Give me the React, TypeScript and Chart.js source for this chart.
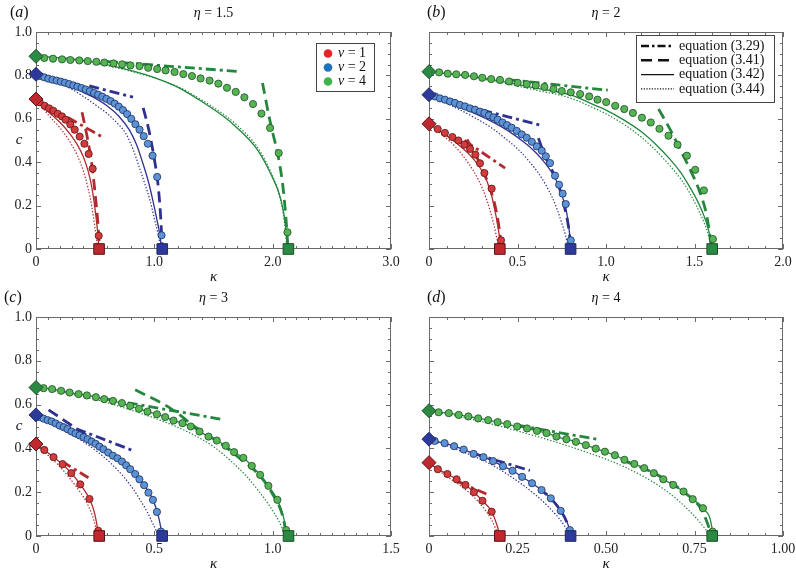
import React, { useEffect, useRef } from "react";
import { Chart, registerables } from "chart.js";
Chart.register(...registerables);

type P = [number, number];

// ---------------- tick labels ----------------
const Y_TICKS = [0, 0.2, 0.4, 0.6, 0.8, 1.0];
const Y_TICK_LABELS = ["0", "0.2", "0.4", "0.6", "0.8", "1.0"];
const A_X_TICKS = [0, 1, 2, 3];
const A_X_LABELS = ["0", "1.0", "2.0", "3.0"];
const B_X_TICKS = [0, 0.5, 1, 1.5, 2];
const B_X_LABELS = ["0", "0.5", "1.0", "1.5", "2.0"];
const C_X_TICKS = [0, 0.5, 1, 1.5];
const C_X_LABELS = ["0", "0.5", "1.0", "1.5"];
const D_X_TICKS = [0, 0.25, 0.5, 0.75, 1];
const D_X_LABELS = ["0", "0.25", "0.50", "0.75", "1.00"];

const PANEL_LETTERS = ["a", "b", "c", "d"];
const ETA_VALUES = ["1.5", "2", "3", "4"];
const V_VALUES = ["1", "2", "4"];
const EQ_LABELS = ["equation (3.29)", "equation (3.41)", "equation (3.42)", "equation (3.44)"];

// ---------------- panel (a) eta = 1.5 ----------------
const A_START = [0.691, 0.805, 0.888];
const A_END = [0.533, 1.067, 2.133];
const A_V1_NUM: P[] = [[0.031,0.676],[0.073,0.660],[0.110,0.648],[0.146,0.637],[0.183,0.623],[0.220,0.611],[0.250,0.596],[0.290,0.574],[0.327,0.550],[0.369,0.518],[0.409,0.485],[0.445,0.438],[0.479,0.370],[0.530,0.061]];
const A_V1_342: P[] = [[0,0.691],[0.1,0.635],[0.2,0.585],[0.28,0.535],[0.35,0.48],[0.40,0.425],[0.44,0.36],[0.47,0.29],[0.495,0.2],[0.515,0.11],[0.527,0.04],[0.532,0]];
const A_V1_344: P[] = [[0,0.691],[0.1,0.62],[0.2,0.56],[0.28,0.50],[0.35,0.43],[0.40,0.36],[0.44,0.28],[0.47,0.20],[0.495,0.11],[0.512,0.04],[0.52,0]];
const A_V1_329: P[] = [[0.27,0.606],[0.56,0.516]];
const A_V1_341: P[] = [[0.389,0.630],[0.432,0.518],[0.474,0.381],[0.502,0.242],[0.525,0.104],[0.536,0]];
const A_V2_NUM: P[] = [[0.035,0.797],[0.07,0.791],[0.105,0.785],[0.14,0.780],[0.175,0.776],[0.21,0.771],[0.245,0.766],[0.28,0.760],[0.315,0.754],[0.35,0.748],[0.385,0.742],[0.42,0.735],[0.455,0.727],[0.49,0.719],[0.525,0.711],[0.56,0.702],[0.595,0.692],[0.63,0.682],[0.665,0.670],[0.70,0.656],[0.735,0.640],[0.77,0.622],[0.805,0.600],[0.84,0.575],[0.875,0.550],[0.91,0.520],[0.945,0.485],[0.985,0.430],[1.024,0.332],[1.061,0.063]];
const A_V2_342: P[] = [[0,0.805],[0.1,0.793],[0.2,0.775],[0.3,0.751],[0.4,0.722],[0.5,0.695],[0.6,0.66],[0.7,0.612],[0.79,0.548],[0.85,0.48],[0.9,0.40],[0.95,0.31],[0.985,0.23],[1.02,0.14],[1.045,0.07],[1.061,0]];
const A_V2_344: P[] = [[0,0.805],[0.1,0.788],[0.2,0.765],[0.3,0.737],[0.4,0.703],[0.5,0.665],[0.6,0.625],[0.7,0.572],[0.756,0.535],[0.82,0.46],[0.87,0.381],[0.92,0.30],[0.962,0.227],[1.0,0.14],[1.03,0.074],[1.055,0]];
const A_V2_329: P[] = [[0.45,0.752],[0.82,0.70]];
const A_V2_341: P[] = [[0.906,0.650],[0.953,0.550],[0.996,0.427],[1.033,0.288],[1.055,0.135],[1.067,0]];
const A_V4_NUM: P[] = [[0.070,0.880],[0.144,0.877],[0.220,0.874],[0.290,0.871],[0.366,0.869],[0.437,0.866],[0.510,0.863],[0.578,0.859],[0.655,0.855],[0.728,0.851],[0.798,0.846],[0.875,0.843],[0.948,0.835],[1.024,0.829],[1.095,0.823],[1.171,0.816],[1.245,0.806],[1.318,0.797],[1.391,0.786],[1.467,0.776],[1.541,0.762],[1.614,0.743],[1.688,0.724],[1.761,0.699],[1.834,0.668],[1.905,0.624],[1.978,0.558],[2.051,0.442],[2.125,0.077]];
const A_V4_342: P[] = [[0,0.888],[0.25,0.879],[0.5,0.86],[0.75,0.83],[1.0,0.79],[1.2,0.745],[1.42,0.673],[1.6,0.605],[1.7,0.558],[1.87,0.458],[1.98,0.35],[2.07,0.227],[2.11,0.104],[2.125,0]];
const A_V4_344: P[] = [[0,0.888],[0.25,0.877],[0.5,0.856],[0.75,0.826],[1.0,0.788],[1.2,0.748],[1.42,0.68],[1.6,0.615],[1.7,0.57],[1.87,0.47],[1.98,0.36],[2.06,0.24],[2.1,0.12],[2.12,0]];
const A_V4_329: P[] = [[0.55,0.866],[1.716,0.818]];
const A_V4_341: P[] = [[1.914,0.765],[1.984,0.573],[2.041,0.442],[2.083,0.304],[2.111,0.15],[2.13,0]];

// ---------------- panel (b) eta = 2 ----------------
const B_START = [0.577, 0.711, 0.817];
const B_END = [0.4, 0.8, 1.6];
const B_V1_NUM: P[] = [[0.049,0.553],[0.090,0.535],[0.132,0.516],[0.166,0.500],[0.200,0.481],[0.232,0.461],[0.262,0.435],[0.288,0.395],[0.313,0.350],[0.354,0.278],[0.407,0.040]];
const B_V1_342: P[] = [[0,0.577],[0.09,0.527],[0.166,0.481],[0.241,0.424],[0.298,0.362],[0.345,0.273],[0.379,0.150],[0.398,0.058],[0.407,0]];
const B_V1_344: P[] = [[0,0.577],[0.072,0.527],[0.147,0.473],[0.222,0.396],[0.279,0.319],[0.326,0.227],[0.364,0.120],[0.396,0]];
const B_V1_329: P[] = [[0.2,0.50],[0.43,0.373]];
const B_V1_341: P[] = [[0.215,0.505],[0.26,0.44],[0.30,0.37],[0.34,0.29],[0.37,0.21],[0.39,0.13],[0.405,0.04],[0.41,0]];
const B_V2_NUM: P[] = [[0.034,0.703],[0.062,0.694],[0.090,0.688],[0.119,0.680],[0.147,0.673],[0.175,0.664],[0.204,0.657],[0.232,0.648],[0.260,0.642],[0.288,0.633],[0.313,0.627],[0.339,0.616],[0.364,0.607],[0.388,0.596],[0.415,0.583],[0.441,0.571],[0.467,0.559],[0.496,0.544],[0.524,0.528],[0.552,0.513],[0.581,0.494],[0.609,0.473],[0.637,0.453],[0.660,0.427],[0.684,0.396],[0.712,0.338],[0.735,0.296],[0.755,0.255],[0.773,0.207],[0.801,0.040]];
const B_V2_342: P[] = [[0,0.711],[0.08,0.685],[0.166,0.656],[0.26,0.624],[0.354,0.588],[0.45,0.543],[0.543,0.488],[0.60,0.447],[0.656,0.396],[0.70,0.345],[0.731,0.295],[0.76,0.225],[0.778,0.166],[0.793,0.08],[0.801,0]];
const B_V2_344: P[] = [[0,0.711],[0.08,0.68],[0.166,0.645],[0.26,0.604],[0.354,0.558],[0.43,0.51],[0.505,0.458],[0.565,0.405],[0.618,0.350],[0.66,0.295],[0.694,0.242],[0.725,0.18],[0.750,0.120],[0.772,0.06],[0.788,0]];
const B_V2_329: P[] = [[0.30,0.64],[0.641,0.568]];
const B_V2_341: P[] = [[0.618,0.511],[0.656,0.427],[0.694,0.365],[0.728,0.304],[0.760,0.212],[0.788,0.104],[0.803,0]];
const B_V4_NUM: P[] = [[0.057,0.814],[0.106,0.808],[0.154,0.805],[0.204,0.802],[0.254,0.796],[0.301,0.789],[0.351,0.783],[0.401,0.779],[0.452,0.772],[0.501,0.766],[0.552,0.760],[0.603,0.754],[0.652,0.747],[0.703,0.737],[0.750,0.728],[0.801,0.722],[0.854,0.714],[0.905,0.703],[0.952,0.688],[1.001,0.677],[1.052,0.660],[1.103,0.645],[1.152,0.627],[1.203,0.605],[1.253,0.583],[1.302,0.554],[1.353,0.522],[1.404,0.481],[1.457,0.430],[1.504,0.365],[1.553,0.270],[1.604,0.046]];
const B_V4_342: P[] = [[0,0.817],[0.2,0.80],[0.4,0.774],[0.6,0.742],[0.8,0.71],[0.93,0.665],[1.0,0.64],[1.1,0.595],[1.2,0.54],[1.29,0.475],[1.36,0.415],[1.42,0.355],[1.47,0.29],[1.51,0.232],[1.55,0.16],[1.58,0.085],[1.6,0]];
const B_V4_344: P[] = [[0,0.817],[0.2,0.797],[0.4,0.768],[0.6,0.733],[0.8,0.695],[0.93,0.65],[1.0,0.623],[1.1,0.575],[1.2,0.515],[1.29,0.447],[1.36,0.385],[1.42,0.325],[1.47,0.262],[1.51,0.2],[1.55,0.13],[1.58,0.06],[1.595,0]];
const B_V4_329: P[] = [[0.45,0.78],[1.01,0.732]];
const B_V4_341: P[] = [[1.297,0.645],[1.363,0.550],[1.419,0.458],[1.476,0.365],[1.532,0.258],[1.570,0.150],[1.598,0]];

// ---------------- panel (c) eta = 3 ----------------
const C_START = [0.42, 0.553, 0.678];
const C_END = [0.267, 0.533, 1.067];
const C_V1_NUM: P[] = [[0.035,0.393],[0.074,0.360],[0.112,0.328],[0.149,0.287],[0.187,0.236],[0.226,0.169],[0.263,0.024]];
const C_V1_342: P[] = [[0,0.42],[0.035,0.393],[0.074,0.36],[0.112,0.328],[0.149,0.287],[0.187,0.236],[0.226,0.169],[0.245,0.115],[0.256,0.06],[0.265,0]];
const C_V1_344: P[] = [[0,0.42],[0.05,0.37],[0.1,0.318],[0.145,0.26],[0.19,0.195],[0.22,0.14],[0.245,0.07],[0.26,0]];
const C_V1_329: P[] = [[0.11,0.34],[0.23,0.26]];
const C_V2_NUM: P[] = [[0.015,0.543],[0.032,0.536],[0.049,0.529],[0.066,0.523],[0.083,0.514],[0.100,0.504],[0.117,0.497],[0.133,0.488],[0.150,0.477],[0.167,0.468],[0.184,0.460],[0.201,0.451],[0.218,0.442],[0.235,0.431],[0.252,0.421],[0.268,0.408],[0.285,0.396],[0.305,0.381],[0.325,0.367],[0.344,0.355],[0.363,0.340],[0.381,0.323],[0.398,0.305],[0.419,0.283],[0.437,0.259],[0.457,0.232],[0.475,0.198],[0.494,0.165],[0.511,0.110],[0.528,0.020]];
const C_V2_342: P[] = [[0,0.553],[0.05,0.529],[0.1,0.504],[0.15,0.477],[0.2,0.451],[0.25,0.422],[0.3,0.385],[0.35,0.35],[0.4,0.303],[0.45,0.242],[0.494,0.165],[0.515,0.1],[0.528,0.035],[0.533,0]];
const C_V2_344: P[] = [[0,0.553],[0.05,0.526],[0.117,0.485],[0.19,0.437],[0.258,0.386],[0.32,0.328],[0.37,0.271],[0.41,0.215],[0.44,0.165],[0.47,0.11],[0.49,0.065],[0.508,0.025],[0.518,0]];
const C_V2_329: P[] = [[0.17,0.49],[0.412,0.389]];
const C_V2_341: P[] = [[0.053,0.576],[0.24,0.44]];
const C_V4_NUM: P[] = [[0.032,0.675],[0.068,0.671],[0.106,0.663],[0.142,0.655],[0.180,0.648],[0.215,0.642],[0.253,0.634],[0.288,0.625],[0.325,0.617],[0.363,0.607],[0.398,0.594],[0.435,0.581],[0.471,0.568],[0.511,0.556],[0.546,0.543],[0.581,0.527],[0.619,0.515],[0.654,0.500],[0.691,0.477],[0.729,0.454],[0.764,0.436],[0.802,0.412],[0.837,0.383],[0.876,0.357],[0.912,0.320],[0.947,0.279],[0.982,0.229],[1.020,0.165],[1.057,0.027]];
const C_V4_342: P[] = [[0,0.678],...C_V4_NUM.slice(0, -1),[1.045,0.09],[1.062,0]];
const C_V4_344: P[] = [[0,0.678],[0.117,0.655],[0.258,0.622],[0.398,0.576],[0.539,0.523],[0.651,0.470],[0.750,0.408],[0.834,0.332],[0.891,0.271],[0.945,0.2],[0.989,0.134],[1.025,0.07],[1.05,0.015],[1.06,0]];
const C_V4_329: P[] = [[0.3,0.625],[0.79,0.532]];
const C_V4_341: P[] = [[0.419,0.668],[0.567,0.584],[0.680,0.492],[0.778,0.424],[0.86,0.355],[0.95,0.27],[1.0,0.19],[1.04,0.1],[1.06,0]];

// ---------------- panel (d) eta = 4 ----------------
const D_START = [0.335, 0.442, 0.572];
const D_END = [0.2, 0.4, 0.8];
const D_V1_NUM: P[] = [[0.025,0.305],[0.052,0.283],[0.078,0.259],[0.103,0.233],[0.127,0.200],[0.151,0.161],[0.177,0.111]];
const D_V1_342: P[] = [[0,0.335],...D_V1_NUM,[0.192,0.05],[0.2,0]];
const D_V1_344: P[] = [[0,0.335],[0.044,0.279],[0.092,0.226],[0.139,0.157],[0.177,0.073],[0.197,0]];
const D_V1_329: P[] = [[0.082,0.248],[0.162,0.192]];
const D_V2_NUM: P[] = [[0.016,0.434],[0.044,0.424],[0.071,0.410],[0.098,0.395],[0.126,0.375],[0.154,0.360],[0.181,0.342],[0.209,0.319],[0.236,0.298],[0.263,0.270],[0.291,0.241],[0.318,0.210],[0.344,0.172],[0.372,0.115],[0.398,0.027]];
const D_V2_342: P[] = [[0,0.442],...D_V2_NUM,[0.401,0]];
const D_V2_344: P[] = [[0,0.442],[0.082,0.393],[0.177,0.325],[0.271,0.226],[0.337,0.134],[0.384,0.043],[0.398,0]];
const D_V2_329: P[] = [[0.13,0.375],[0.285,0.299]];
const D_V2_341: P[] = [[0.31,0.22],[0.345,0.17],[0.37,0.12],[0.39,0.06],[0.4,0]];
const D_V4_NUM: P[] = [[0.027,0.565],[0.056,0.561],[0.084,0.553],[0.111,0.546],[0.139,0.537],[0.167,0.529],[0.194,0.520],[0.221,0.511],[0.249,0.500],[0.277,0.491],[0.305,0.480],[0.332,0.470],[0.360,0.454],[0.388,0.442],[0.415,0.430],[0.443,0.415],[0.471,0.399],[0.497,0.385],[0.525,0.369],[0.552,0.348],[0.580,0.329],[0.608,0.310],[0.635,0.287],[0.662,0.259],[0.690,0.233],[0.719,0.203],[0.745,0.168],[0.774,0.127],[0.801,0.020]];
const D_V4_342: P[] = [[0,0.572],...D_V4_NUM,[0.802,0]];
const D_V4_344: P[] = [[0,0.572],[0.129,0.530],[0.271,0.470],[0.412,0.401],[0.554,0.314],[0.667,0.210],[0.742,0.104],[0.790,0.012],[0.795,0]];
const D_V4_329: P[] = [[0.25,0.506],[0.483,0.439]];
const D_V4_341: P[] = [[0.55,0.345],[0.65,0.275],[0.72,0.2],[0.77,0.12],[0.80,0]];

// ---------------- styling / layout ----------------
const FONT = '"Liberation Serif", "Times New Roman", serif';
const COLORS = [
  { line: "#b22a2f", fill: "#d23c3c", edge: "#5c1114", mark: "#c0282f" },
  { line: "#2e3192", fill: "#5b94d4", edge: "#1e2a62", mark: "#2d3a9c" },
  { line: "#23873d", fill: "#56b453", edge: "#1a4f26", mark: "#2a8a43" },
];
const LEGEND_DOTS = ["#e8242b", "#1c74bc", "#3cb44b"];

type Series = { num: P[]; l342: P[]; l344: P[]; l329: P[]; l341: P[] | null; start: number; end: number };
type Panel = {
  idx: number; xMax: number; xTicks: number[]; xLabels: string[]; xMinor: number; showY: boolean;
  rect: { l: number; r: number; t: number; b: number }; labelX: number; series: Series[];
};

const mk = (num: P[], l342: P[], l344: P[], l329: P[], l341: P[] | null, start: number, end: number): Series =>
  ({ num, l342, l344, l329, l341, start, end });

const PANELS: Panel[] = [
  { idx: 0, xMax: 3, xTicks: A_X_TICKS, xLabels: A_X_LABELS, xMinor: 0.1, showY: true,
    rect: { l: 36, r: 391, t: 32, b: 249 }, labelX: 10,
    series: [mk(A_V1_NUM, A_V1_342, A_V1_344, A_V1_329, A_V1_341, A_START[0], A_END[0]),
             mk(A_V2_NUM, A_V2_342, A_V2_344, A_V2_329, A_V2_341, A_START[1], A_END[1]),
             mk(A_V4_NUM, A_V4_342, A_V4_344, A_V4_329, A_V4_341, A_START[2], A_END[2])] },
  { idx: 1, xMax: 2, xTicks: B_X_TICKS, xLabels: B_X_LABELS, xMinor: 0.1, showY: false,
    rect: { l: 429, r: 783, t: 32, b: 249 }, labelX: 427,
    series: [mk(B_V1_NUM, B_V1_342, B_V1_344, B_V1_329, B_V1_341, B_START[0], B_END[0]),
             mk(B_V2_NUM, B_V2_342, B_V2_344, B_V2_329, B_V2_341, B_START[1], B_END[1]),
             mk(B_V4_NUM, B_V4_342, B_V4_344, B_V4_329, B_V4_341, B_START[2], B_END[2])] },
  { idx: 2, xMax: 1.5, xTicks: C_X_TICKS, xLabels: C_X_LABELS, xMinor: 0.05, showY: true,
    rect: { l: 36, r: 391, t: 317, b: 536 }, labelX: 4,
    series: [mk(C_V1_NUM, C_V1_342, C_V1_344, C_V1_329, null, C_START[0], C_END[0]),
             mk(C_V2_NUM, C_V2_342, C_V2_344, C_V2_329, C_V2_341, C_START[1], C_END[1]),
             mk(C_V4_NUM, C_V4_342, C_V4_344, C_V4_329, C_V4_341, C_START[2], C_END[2])] },
  { idx: 3, xMax: 1, xTicks: D_X_TICKS, xLabels: D_X_LABELS, xMinor: 0.05, showY: false,
    rect: { l: 429, r: 783, t: 317, b: 536 }, labelX: 427,
    series: [mk(D_V1_NUM, D_V1_342, D_V1_344, D_V1_329, null, D_START[0], D_END[0]),
             mk(D_V2_NUM, D_V2_342, D_V2_344, D_V2_329, D_V2_341, D_START[1], D_END[1]),
             mk(D_V4_NUM, D_V4_342, D_V4_344, D_V4_329, D_V4_341, D_START[2], D_END[2])] },
];

const W = 796, H = 575;
const toXY = (arr: P[]) => arr.map(([x, y]) => ({ x, y }));

function lineDs(arr: P[], color: string, width: number, dash: number[], curve: boolean) {
  return {
    data: toXY(arr), showLine: true, pointRadius: 0, pointHoverRadius: 0,
    borderColor: color, backgroundColor: color, borderWidth: width, borderDash: dash,
    fill: false, tension: curve ? 0.4 : 0, cubicInterpolationMode: curve ? "monotone" : "default",
    order: 3,
  };
}

function drawParts(ctx: CanvasRenderingContext2D, parts: [string, boolean][], x: number, y: number, size: number, align: "left" | "center") {
  let total = 0;
  for (const [t, it] of parts) {
    ctx.font = `${it ? "italic " : ""}${size}px ${FONT}`;
    total += ctx.measureText(t).width;
  }
  let cx = align === "center" ? x - total / 2 : x;
  ctx.textBaseline = "middle";
  ctx.textAlign = "left";
  for (const [t, it] of parts) {
    ctx.font = `${it ? "italic " : ""}${size}px ${FONT}`;
    ctx.fillText(t, cx, y);
    cx += ctx.measureText(t).width;
  }
}

function makePlugin(p: Panel) {
  return {
    id: "panelDecor" + p.idx,
    beforeDatasetsDraw(chart: any) {
      const { ctx, chartArea: a, scales } = chart;
      const xs = scales.x, ys = scales.y;
      ctx.save();
      ctx.strokeStyle = "#6a6a6a";
      ctx.lineWidth = 1;
      ctx.beginPath();
      const nx = Math.round(p.xMax / p.xMinor);
      for (let i = 0; i <= nx; i++) {
        const v = i * p.xMinor;
        const major = p.xTicks.some((t) => Math.abs(t - v) < 1e-6);
        const len = major ? 5 : 3;
        const px = Math.round(xs.getPixelForValue(v)) + 0.5;
        ctx.moveTo(px, a.bottom); ctx.lineTo(px, a.bottom - len);
        ctx.moveTo(px, a.top); ctx.lineTo(px, a.top + len);
      }
      for (let i = 0; i <= 20; i++) {
        const v = i * 0.05;
        const major = Y_TICKS.some((t) => Math.abs(t - v) < 1e-6);
        const len = major ? 5 : 3;
        const py = Math.round(ys.getPixelForValue(v)) + 0.5;
        ctx.moveTo(a.left, py); ctx.lineTo(a.left + len, py);
        ctx.moveTo(a.right, py); ctx.lineTo(a.right - len, py);
      }
      ctx.stroke();
      ctx.strokeRect(a.left + 0.5, a.top + 0.5, a.right - a.left - 1, a.bottom - a.top - 1);
      ctx.restore();
    },
    afterDraw(chart: any) {
      const { ctx, chartArea: a } = chart;
      ctx.save();
      ctx.fillStyle = "#111";
      const cx = (a.left + a.right) / 2;
      drawParts(ctx, [["(", false], [PANEL_LETTERS[p.idx], true], [")", false]], p.labelX, a.top - 19, 16, "left");
      drawParts(ctx, [["η", true], [" = " + ETA_VALUES[p.idx], false]], cx, a.top - 19, 14, "center");
      drawParts(ctx, [["κ", true]], cx, a.bottom + 28, 15, "center");
      if (p.showY) drawParts(ctx, [["c", true]], 19, (a.top + a.bottom) / 2, 15, "center");
      if (p.idx === 0) {
        const bx = 316, by = 43, bw = 58, bh = 48;
        ctx.fillStyle = "#fff";
        ctx.fillRect(bx, by, bw, bh);
        ctx.strokeStyle = "#444";
        ctx.lineWidth = 1;
        ctx.strokeRect(bx + 0.5, by + 0.5, bw, bh);
        V_VALUES.forEach((v, i) => {
          const y = by + 10.5 + i * 14;
          ctx.fillStyle = LEGEND_DOTS[i];
          ctx.beginPath(); ctx.arc(bx + 12, y, 4.3, 0, Math.PI * 2); ctx.fill();
          ctx.fillStyle = "#111";
          drawParts(ctx, [["ν", true], [" = " + v, false]], bx + 22, y, 14, "left");
        });
      }
      if (p.idx === 1) {
        const bx = 636, by = 35, bw = 138, bh = 67;
        ctx.fillStyle = "#fff";
        ctx.fillRect(bx, by, bw, bh);
        ctx.strokeStyle = "#444";
        ctx.lineWidth = 1;
        ctx.strokeRect(bx + 0.5, by + 0.5, bw, bh);
        const styles: [number, number[]][] = [[2.6, [8, 3, 2.5, 3]], [2.6, [11, 6]], [1.2, []], [1.1, [1.2, 1.5]]];
        EQ_LABELS.forEach((t, i) => {
          const y = by + 11 + i * 14.3;
          ctx.strokeStyle = "#111";
          ctx.lineWidth = styles[i][0];
          ctx.setLineDash(styles[i][1]);
          ctx.beginPath(); ctx.moveTo(bx + 5, y); ctx.lineTo(bx + 38, y); ctx.stroke();
          ctx.setLineDash([]);
          ctx.fillStyle = "#111";
          drawParts(ctx, [[t, false]], bx + 43, y, 14, "left");
        });
      }
      ctx.restore();
    },
  };
}

function buildConfig(p: Panel): any {
  const datasets: any[] = [];
  p.series.forEach((s, i) => {
    const c = COLORS[i];
    datasets.push({ data: [{ x: 0, y: s.start }], showLine: false, pointStyle: "rectRot", pointRadius: 7,
      backgroundColor: c.mark, borderColor: c.edge, borderWidth: 1, clip: false, order: 0 });
    datasets.push({ data: [{ x: s.end, y: 0 }], showLine: false, pointStyle: "rect", pointRadius: 7.5,
      backgroundColor: c.mark, borderColor: c.edge, borderWidth: 1, clip: false, order: 0 });
    datasets.push({ data: toXY(s.num), showLine: false, pointStyle: "circle", pointRadius: 3.6,
      backgroundColor: c.fill, borderColor: c.edge, borderWidth: 0.8, clip: false, order: 1 });
    datasets.push(lineDs(s.l342, c.line, 1.3, [], true));
    datasets.push(lineDs(s.l344, c.line, 1.2, [1.4, 1.8], true));
    datasets.push(lineDs(s.l329, c.line, 2.8, [10, 4, 3, 4], false));
    if (s.l341) datasets.push(lineDs(s.l341, c.line, 2.8, [11, 6], true));
  });
  const r = p.rect;
  const yw = p.idx % 2 === 0 ? r.l : r.l - 398;
  const xh = 25;
  const tickFont = { family: FONT, size: 14 };
  return {
    type: "scatter",
    data: { datasets },
    options: {
      animation: false, responsive: false, devicePixelRatio: 1, events: [],
      layout: { padding: { left: r.l - yw, right: W - r.r, top: r.t, bottom: H - r.b - xh } },
      plugins: { legend: { display: false }, tooltip: { enabled: false }, title: { display: false } },
      scales: {
        x: {
          type: "linear", min: 0, max: p.xMax,
          grid: { display: false, drawTicks: false }, border: { display: false },
          ticks: { padding: 5, font: tickFont, color: "#222", maxRotation: 0, autoSkip: false,
            callback: (_v: any, i: number) => p.xLabels[i] },
          afterBuildTicks: (s: any) => { s.ticks = p.xTicks.map((v) => ({ value: v })); },
          afterFit: (s: any) => { s.height = xh; s.paddingLeft = 0; s.paddingRight = 0; },
        },
        y: {
          type: "linear", min: 0, max: 1,
          grid: { display: false, drawTicks: false }, border: { display: false },
          ticks: { display: p.showY, padding: 4, font: tickFont, color: "#222", autoSkip: false,
            callback: (_v: any, i: number) => Y_TICK_LABELS[i] },
          afterBuildTicks: (s: any) => { s.ticks = Y_TICKS.map((v) => ({ value: v })); },
          afterFit: (s: any) => { s.width = yw; s.paddingTop = 0; s.paddingBottom = 0; },
        },
      },
    },
    plugins: [makePlugin(p)],
  };
}

function PanelCanvas({ panel }: { panel: Panel }) {
  const ref = useRef<HTMLCanvasElement | null>(null);
  useEffect(() => {
    if (!ref.current) return;
    const chart = new Chart(ref.current, buildConfig(panel));
    return () => chart.destroy();
  }, [panel]);
  return <canvas ref={ref} width={W} height={H} style={{ position: "absolute", left: 0, top: 0, width: W, height: H }} />;
}

export default function App() {
  return (
    <div style={{ position: "fixed", left: 0, top: 0, width: W, height: H, background: "#fff", overflow: "hidden" }}>
      {PANELS.map((p) => <PanelCanvas key={p.idx} panel={p} />)}
    </div>
  );
}
